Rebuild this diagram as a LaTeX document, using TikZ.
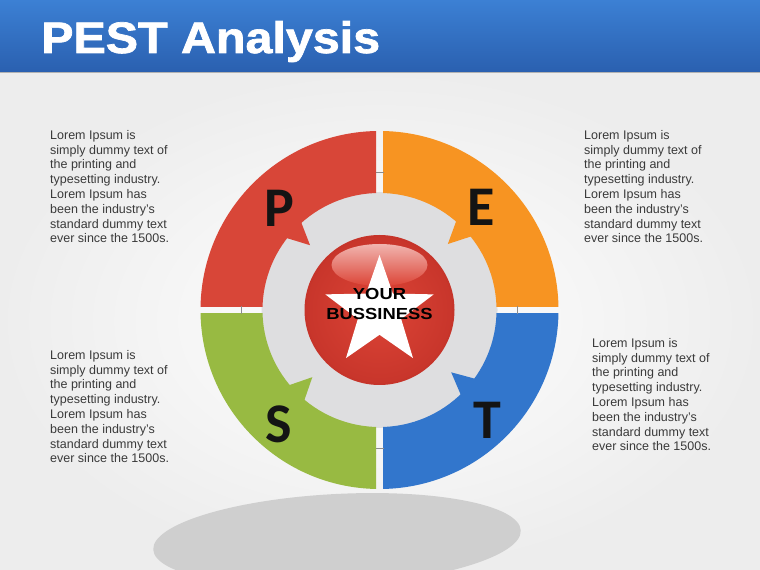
\documentclass[tikz,border=0pt]{standalone}
\usepackage{fontspec}
\setmainfont{Liberation Sans}
\newfontfamily\letterfont{Carlito}
\newfontfamily\titlefont[FakeBold=1.6]{Liberation Sans Bold}
\usetikzlibrary{shapes.geometric}
\definecolor{barTop}{RGB}{60,128,212}
\definecolor{barBot}{RGB}{42,96,176}
\definecolor{pRed}{RGB}{216,70,56}
\definecolor{eOrange}{RGB}{247,148,34}
\definecolor{sGreen}{RGB}{152,186,66}
\definecolor{tBlue}{RGB}{50,118,204}
\definecolor{ringGray}{RGB}{222,222,224}
\definecolor{coreIn}{RGB}{220,68,54}
\definecolor{coreOut}{RGB}{198,52,42}
\definecolor{bodyText}{RGB}{58,58,58}
\begin{document}
\begin{tikzpicture}[x=1pt, y=1pt, every node/.style={inner sep=0pt},
    blurb/.style={align=left, anchor=north west, text=bodyText, font=\fontsize{12.5}{14.8}\selectfont},
    letter/.style={font=\letterfont\bfseries\fontsize{56}{56}\selectfont, text=black!92}]
  \useasboundingbox (0,0) rectangle (760,570);
  \shade[inner color=white, outer color=black!7] (0,0) rectangle (760,498);
  \shade[top color=barTop, bottom color=barBot] (0,498) rectangle (760,570);
  \draw[black!30, line width=1pt] (0,497.5) -- (760,497.5);
  \node[anchor=base west, xscale=1.1, text=white, font=\titlefont\fontsize{44}{44}\selectfont] (title) at (41,517) {PEST Analysis};

  % shadow under the wheel
  \fill[black!19, rotate around={3:(337,30)}] (337,30) ellipse [x radius=184, y radius=46];

  \coordinate (C) at (379.5,260);
  \fill[ringGray] (C) circle [radius=118];
  \foreach \sx/\sy/\col in {-1/1/pRed, 1/1/eOrange, -1/-1/sGreen, 1/-1/tBlue}{
    \begin{scope}
      \clip ([shift={(\sx*3.5,\sy*3.5)}]C) rectangle ([shift={(\sx*190,\sy*190)}]C);
      \fill[\col, even odd rule] (C) circle [radius=179] (C) circle [radius=117];
    \end{scope}
  }
  \foreach \a/\col in {137/pRed, 44/eOrange, 225/sGreen, -41/tBlue}
    \fill[\col] ([shift={(\a-5.5:119)}]C) -- ([shift={(\a+5.5:119)}]C) -- ([shift={(\a:95)}]C) -- cycle;
  \foreach \a in {0,90,180,270}
    \draw[black!45, line width=0.7pt] ([shift={(\a:138)}]C) ++(\a+90:4) -- ++(\a-90:8);

  \fill[coreOut] (C) circle [radius=75];
  \begin{scope}
    \clip (C) circle [radius=73];
    \shade[inner color=coreIn, outer color=coreOut] (C) circle [radius=80];
    \shade[top color=coreIn!40!white, bottom color=coreIn] (379.5,305) ellipse [x radius=48, y radius=21];
  \end{scope}
  \node[star, star points=5, star point ratio=2.5, minimum size=114, fill=white] (star) at (379.5,258) {};
  \node[align=center, xscale=1.15, font=\bfseries\fontsize{16}{20}\selectfont] (biz) at (379.5,266) {YOUR\\BUSSINESS};

  \node[letter] (P) at (279,362) {P};
  \node[letter] (E) at (481,363) {E};
  \node[letter] (S) at (279,146) {S};
  \node[letter] (T) at (487,150) {T};

  \node[blurb] (pText) at (50,440) {Lorem Ipsum is\\simply dummy text of\\the printing and\\typesetting industry.\\Lorem Ipsum has\\been the industry's\\standard dummy text\\ever since the 1500s.};
  \node[blurb] (eText) at (584,440) {Lorem Ipsum is\\simply dummy text of\\the printing and\\typesetting industry.\\Lorem Ipsum has\\been the industry's\\standard dummy text\\ever since the 1500s.};
  \node[blurb] (sText) at (50,220) {Lorem Ipsum is\\simply dummy text of\\the printing and\\typesetting industry.\\Lorem Ipsum has\\been the industry's\\standard dummy text\\ever since the 1500s.};
  \node[blurb] (tText) at (592,232) {Lorem Ipsum is\\simply dummy text of\\the printing and\\typesetting industry.\\Lorem Ipsum has\\been the industry's\\standard dummy text\\ever since the 1500s.};
\end{tikzpicture}
\end{document}
